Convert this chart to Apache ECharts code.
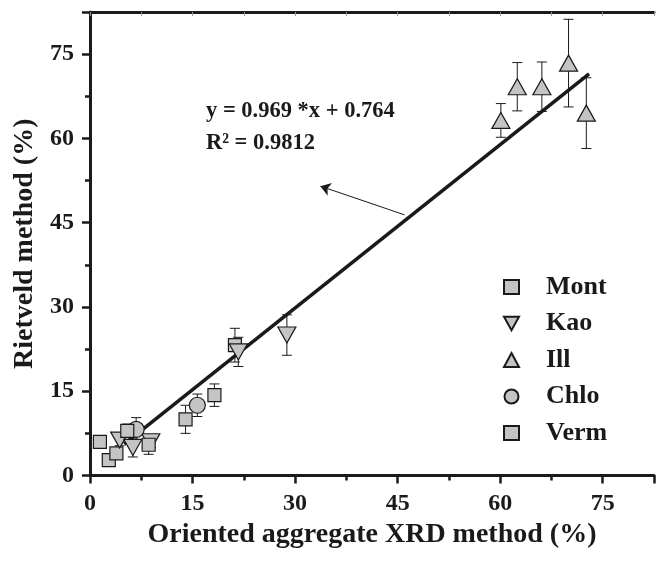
<!DOCTYPE html>
<html>
<head>
<meta charset="utf-8">
<script src="https://cdn.jsdelivr.net/npm/echarts@6/dist/echarts.min.js"></script>
<style>
  html, body { margin: 0; padding: 0; background: #fff; }
  #chart { width: 657px; height: 565px; }
</style>
</head>
<body>
<div id="chart"></div>
<script>
// values: x, y and the half-length of each error bar
const montX = [1.45, 2.75, 3.86, 13.98, 18.2, 21.2];
const montY = [6.0, 2.75, 3.94, 10.0, 14.3, 23.2];
const montErr = [0.8, 0.8, 0.8, 2.5, 2.0, 3.0];

const kaoX = [4.34, 6.27, 8.9, 21.7, 28.8];
const kaoY = [6.3, 5.0, 6.0, 22.0, 25.0];
const kaoErr = [1.0, 1.7, 1.0, 2.6, 3.6];

const illX = [60.1, 62.5, 66.1, 70.0, 72.6];
const illY = [63.2, 69.2, 69.2, 73.4, 64.5];
const illErr = [3.0, 4.3, 4.4, 7.8, 6.3];

const chloX = [6.75, 15.7];
const chloY = [8.2, 12.5];
const chloErr = [2.1, 2.0];

const vermX = [5.45, 8.58];
const vermY = [7.96, 5.47];
const vermErr = [1.2, 1.7];

// fitted line end points and the arrow pointing at it
const fitX = [5, 73];
const fitY = [5.6, 71.5];
const arrowFrom = [46.0, 46.4];
const arrowTo = [33.7, 51.5];

const ticks = [0, 15, 30, 45, 60, 75];
const seriesNames = ["Mont", "Kao", "Ill", "Chlo", "Verm"];

const FONT = "Liberation Serif";
const FILL = "#c4c4c4";
const INK = "#1a1a1a";
const downTriangle = "path://M0,0 L20,0 L10,18 Z";

function pts(xs, ys) {
    return xs.map((x, i) => [x, ys[i]]);
}
function errPts(xs, ys, es) {
    return xs.map((x, i) => [x, ys[i], es[i]]);
}

function renderErr(params, api) {
    const x = api.value(0), y = api.value(1), e = api.value(2);
    const top = api.coord([x, y + e]);
    const bot = api.coord([x, y - e]);
    const w = 5;
    const st = { stroke: INK, lineWidth: 1 };
    return {
        type: "group",
        children: [
            { type: "line", shape: { x1: top[0], y1: top[1], x2: bot[0], y2: bot[1] }, style: st },
            { type: "line", shape: { x1: top[0] - w, y1: top[1], x2: top[0] + w, y2: top[1] }, style: st },
            { type: "line", shape: { x1: bot[0] - w, y1: bot[1], x2: bot[0] + w, y2: bot[1] }, style: st }
        ]
    };
}

function errSeries(name, xs, ys, es) {
    return {
        name: name + " err",
        type: "custom",
        renderItem: renderErr,
        data: errPts(xs, ys, es),
        z: 2,
        silent: true
    };
}

function markerSeries(name, xs, ys, symbol, size) {
    return {
        name: name,
        type: "scatter",
        data: pts(xs, ys),
        symbol: symbol,
        symbolSize: size,
        itemStyle: { color: FILL, borderColor: INK, borderWidth: 1.2, opacity: 1 },
        z: 4
    };
}

const chart = echarts.init(document.getElementById("chart"));

const option = {
    animation: false,
    backgroundColor: "#fff",
    grid: { left: 90, top: 12, right: -4, bottom: 89.5, containLabel: false },
    legend: {
        data: seriesNames,
        orient: "vertical",
        left: 503,
        top: 274,
        padding: 0,
        itemWidth: 15,
        itemHeight: 14,
        itemGap: 10.5,
        textStyle: { fontFamily: FONT, fontWeight: "bold", fontSize: 26, color: INK, padding: [0, 0, 0, 22] }
    },
    xAxis: [
        {
            type: "value",
            min: 0,
            max: 82.5,
            interval: 15,
            name: "Oriented aggregate XRD method (%)",
            nameLocation: "middle",
            nameGap: 32,
            nameTextStyle: { fontFamily: FONT, fontWeight: "bold", fontSize: 28, color: INK },
            axisLine: { show: true, onZero: false, lineStyle: { color: INK, width: 3 } },
            axisTick: { show: true, inside: false, length: 8, lineStyle: { color: INK, width: 2.5 } },
            minorTick: { show: true, splitNumber: 2, length: 5, lineStyle: { color: INK, width: 2.5 } },
            splitLine: { show: false },
            axisLabel: {
                margin: 16, fontFamily: FONT, fontWeight: "bold", fontSize: 24, color: INK,
                formatter: (v) => (ticks.includes(v) ? String(v) : "")
            }
        },
        {
            type: "value",
            position: "top",
            min: 0,
            max: 82.5,
            interval: 15,
            axisLine: { show: true, onZero: false, lineStyle: { color: INK, width: 3 } },
            axisTick: { show: true, inside: true, length: 4, lineStyle: { color: "#999", width: 1 } },
            minorTick: { show: true, splitNumber: 2, length: 4, lineStyle: { color: "#999", width: 1 } },
            splitLine: { show: false },
            axisLabel: { show: false }
        }
    ],
    yAxis: {
        type: "value",
        min: 0,
        max: 82.5,
        interval: 15,
        name: "Rietveld method (%)",
        nameLocation: "middle",
        nameGap: 50,
        nameTextStyle: { fontFamily: FONT, fontWeight: "bold", fontSize: 28, color: INK },
        axisLine: { show: true, onZero: false, lineStyle: { color: INK, width: 3 } },
        axisTick: { show: true, inside: false, length: 8, lineStyle: { color: INK, width: 2.5 } },
        minorTick: { show: true, splitNumber: 2, length: 5, lineStyle: { color: INK, width: 2.5 } },
        splitLine: { show: false },
        axisLabel: {
            margin: 16, fontFamily: FONT, fontWeight: "bold", fontSize: 24, color: INK,
            formatter: (v) => (ticks.includes(v) ? String(v) : "")
        }
    },
    series: [
        {
            name: "fit",
            type: "line",
            data: pts(fitX, fitY),
            showSymbol: false,
            lineStyle: { color: INK, width: 3.5 },
            z: 1,
            silent: true,
            markLine: {
                silent: true,
                symbol: ["none", "arrow"],
                symbolSize: 10,
                lineStyle: { color: INK, width: 1, type: "solid" },
                label: { show: false },
                data: [[{ coord: arrowFrom }, { coord: arrowTo }]]
            }
        },
        errSeries("Mont", montX, montY, montErr),
        errSeries("Kao", kaoX, kaoY, kaoErr),
        errSeries("Ill", illX, illY, illErr),
        errSeries("Chlo", chloX, chloY, chloErr),
        errSeries("Verm", vermX, vermY, vermErr),
        markerSeries("Mont", montX, montY, "rect", 13),
        markerSeries("Kao", kaoX, kaoY, downTriangle, [18, 16]),
        markerSeries("Ill", illX, illY, "triangle", [18, 16]),
        markerSeries("Chlo", chloX, chloY, "circle", 16),
        markerSeries("Verm", vermX, vermY, "rect", 13)
    ],
    graphic: [
        {
            type: "text",
            left: 206,
            top: 100,
            style: { text: "y = 0.969 *x + 0.764", fontFamily: FONT, fontWeight: "bold", fontSize: 22.5, fill: INK }
        },
        {
            type: "text",
            left: 206,
            top: 132,
            style: { text: "R\u00B2 = 0.9812", fontFamily: FONT, fontWeight: "bold", fontSize: 22.5, fill: INK }
        }
    ]
};

chart.setOption(option);
</script>
</body>
</html>
